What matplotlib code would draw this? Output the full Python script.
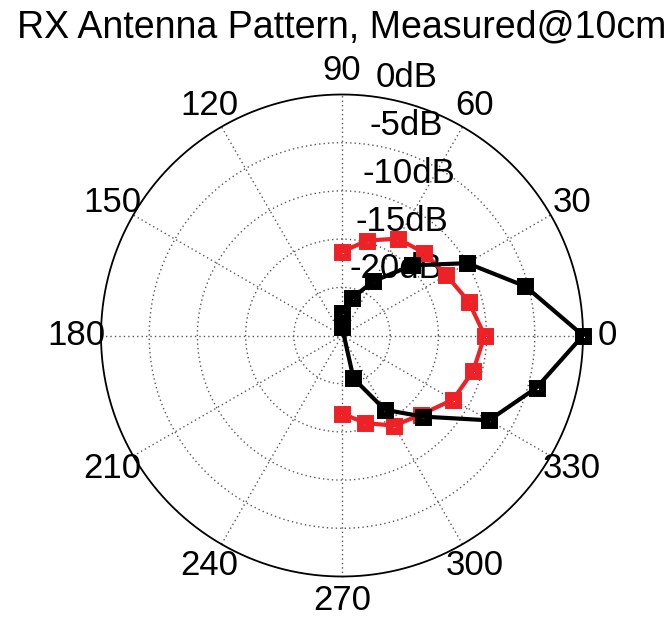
import numpy as np
import matplotlib
matplotlib.use("Agg")
import matplotlib.pyplot as plt

plt.rcParams['font.family'] = ['Liberation Sans', 'DejaVu Sans']

# ---- data ----
angles_deg = [-90, -75, -60, -45, -30, -15, 0, 15, 30, 45, 60, 75, 90]
black_db = [-25.9, -20.4, -16.1, -13.1, -7.4, -4.1, 0.0, -5.3, -10.0, -14.7, -18.5, -21.0, -22.7]
red_db = [-16.9, -15.6, -14.2, -13.4, -11.7, -10.9, -10.2, -11.4, -12.5, -12.9, -13.4, -14.8, -16.3]
ring_db = [-20, -15, -10, -5, 0]
ring_labels = ['-20dB', '-15dB', '-10dB', '-5dB', '0dB']
spoke_deg = [0, 30, 60, 90, 120, 150, 180, 210, 240, 270, 300, 330]
title = 'RX Antenna Pattern, Measured@10cm'
db_min = -25.0
db_max = 0.0

W, H = 672, 617
fig = plt.figure(figsize=(W / 100, H / 100), dpi=100)
ax = fig.add_axes([0, 0, 1, 1])
ax.set_axis_off()

cx, cy = 342.0, 335.5   # pixel center
Rpx = 241.0
rmax = db_max - db_min
s = Rpx / rmax
ax.set_xlim((0 - cx) / s, (W - cx) / s)
ax.set_ylim(-(H - cy) / s, cy / s)

fs = 25
grid_kw = dict(color='0.35', lw=1.0, linestyle=(0, (1, 2.2)), zorder=1)

t = np.linspace(0, 2 * np.pi, 400)
# rings
for d in ring_db[:-1]:
    r = d - db_min
    ax.plot(r * np.cos(t), r * np.sin(t), **grid_kw)
# outer circle
ax.plot(rmax * np.cos(t), rmax * np.sin(t), color='black', lw=1.3, zorder=2)
# spokes
for a in spoke_deg[:6]:
    th = np.deg2rad(a)
    ax.plot([-rmax * np.cos(th), rmax * np.cos(th)], [-rmax * np.sin(th), rmax * np.sin(th)], **grid_kw)
# angle labels
for a in spoke_deg:
    th = np.deg2rad(a)
    ax.text(1.1 * rmax * np.cos(th), 1.1 * rmax * np.sin(th), str(a), ha='center', va='center',
            fontsize=fs, zorder=3)
# ring labels
c82, s82 = np.cos(np.deg2rad(82)), np.sin(np.deg2rad(82))
for d, lab in zip(ring_db, ring_labels):
    r = d - db_min + rmax / 100
    ax.text(r * c82, r * s82, lab, ha='left', va='bottom', fontsize=fs, zorder=3)

def plot_series(db, color):
    th = np.deg2rad(np.array(angles_deg, dtype=float))
    r = np.array(db, dtype=float) - db_min
    ax.plot(r * np.cos(th), r * np.sin(th), color=color, lw=3.0, marker='s', markersize=6.5,
            markeredgewidth=5, markerfacecolor='none', markeredgecolor=color, zorder=5)

plot_series(red_db, '#ec2227')
plot_series(black_db, 'black')

fig.text(cx / W, 1 - 27 / H, title, ha='center', va='center', fontsize=27)

fig.savefig('out.png', dpi=100)
